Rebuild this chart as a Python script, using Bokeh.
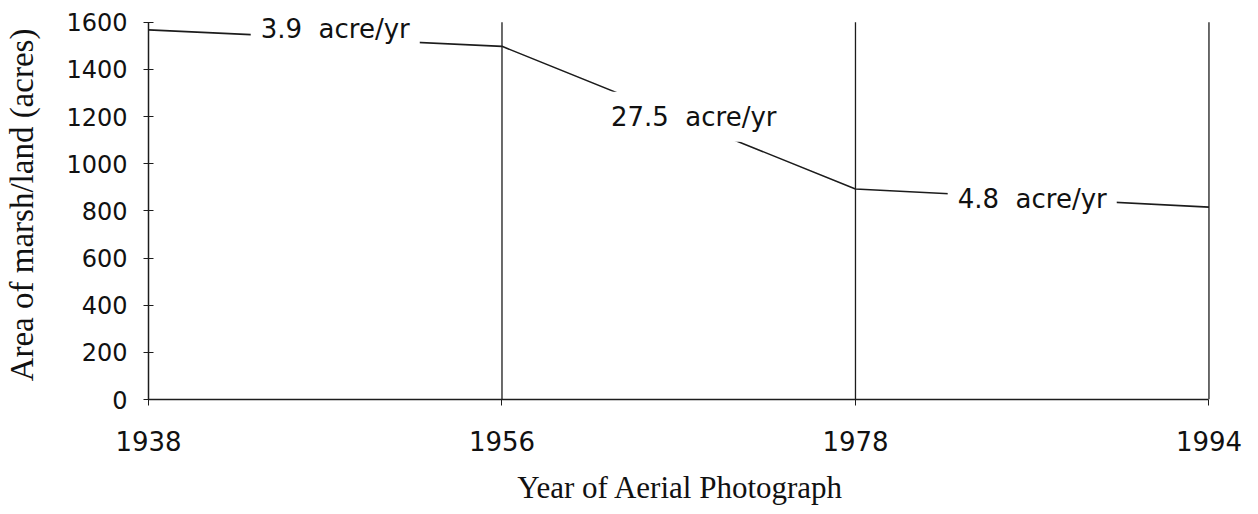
from bokeh.plotting import figure
from bokeh.models import Range1d, FixedTicker, Label
from bokeh.embed import file_html
from bokeh.resources import INLINE

years = ["1938", "1956", "1978", "1994"]
area = [1568, 1498, 893, 816]
rates = ["3.9\u00a0 acre/yr", "27.5\u00a0 acre/yr", "4.8\u00a0 acre/yr"]
y_ticks = [0, 200, 400, 600, 800, 1000, 1200, 1400, 1600]
y_max = 1600

idx = list(range(len(years)))
INK = "#1c1c1c"

p = figure(width=1258, height=514, output_backend="svg", toolbar_location=None,
           x_range=Range1d(0, len(years) - 1 + 0.01), y_range=Range1d(0, 1650),
           min_border_left=148, min_border_right=46, min_border_top=10, min_border_bottom=115)
p.grid.visible = False
p.outline_line_color = None
p.background_fill_color = "white"
p.border_fill_color = "white"

# vertical year lines
p.segment(x0=idx[1:], y0=[0] * (len(idx) - 1), x1=idx[1:], y1=[y_max] * (len(idx) - 1),
          line_color=INK, line_width=1.3)
# area line
p.line(idx, area, line_color=INK, line_width=1.6)

# rate labels on each segment
offs = [(10, 9), (15, 1), (0, -1)]
for i, r in enumerate(rates):
    lab = Label(x=i + 0.5, y=(area[i] + area[i + 1]) / 2, text=r,
                x_offset=offs[i][0], y_offset=offs[i][1],
                text_align="center", text_baseline="middle",
                text_font="DejaVu Sans", text_font_size="26px", text_color="#111111",
                background_fill_color="white", padding=10)
    p.add_layout(lab)

xa = p.xaxis[0]
xa.ticker = FixedTicker(ticks=idx)
xa.major_label_overrides = {i: y for i, y in zip(idx, years)}
xa.bounds = (0, len(years) - 1)
xa.axis_line_color = INK
xa.axis_line_width = 1.5
xa.major_tick_in = 0
xa.major_tick_out = 6
xa.major_tick_line_color = INK
xa.minor_tick_line_color = None
xa.major_label_text_font = "DejaVu Sans"
xa.major_label_text_font_size = "26px"
xa.major_label_text_color = "#111111"
xa.major_label_standoff = 25
xa.axis_label = "Year of Aerial Photograph"
xa.axis_label_text_font = "Liberation Serif"
xa.axis_label_text_font_style = "normal"
xa.axis_label_text_font_size = "31px"
xa.axis_label_text_color = "#111111"
xa.axis_label_standoff = 16

ya = p.yaxis[0]
ya.ticker = FixedTicker(ticks=y_ticks)
ya.bounds = (0, y_max)
ya.axis_line_color = INK
ya.axis_line_width = 1.5
ya.major_tick_in = 5
ya.major_tick_out = 5
ya.major_tick_line_color = INK
ya.minor_tick_line_color = None
ya.major_label_text_font = "DejaVu Sans"
ya.major_label_text_font_size = "24px"
ya.major_label_text_color = "#111111"
ya.major_label_standoff = 16
ya.axis_label = "Area of marsh/land (acres)"
ya.axis_label_text_font = "Liberation Serif"
ya.axis_label_text_font_style = "normal"
ya.axis_label_text_font_size = "33px"
ya.axis_label_text_color = "#111111"
ya.axis_label_standoff = 23

open("out.html", "w").write(file_html(p, INLINE))
